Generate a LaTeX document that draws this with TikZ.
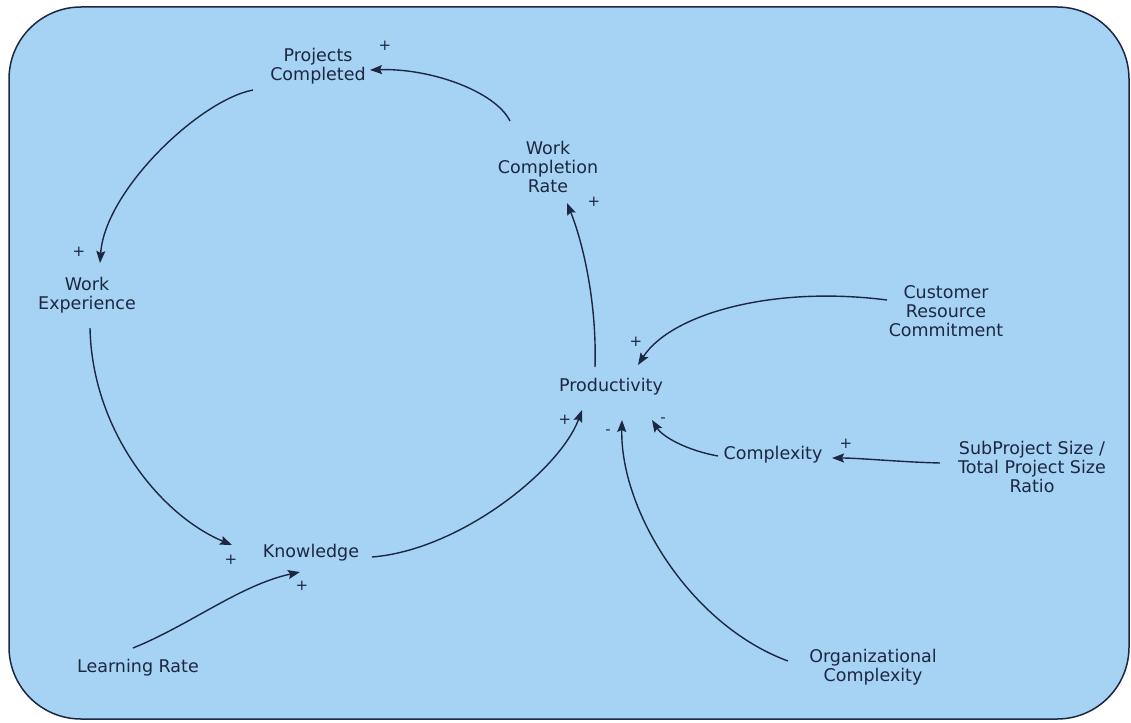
\documentclass[tikz,border=0pt]{standalone}
\usepackage{fontspec}
\setmainfont{DejaVu Sans}
\usetikzlibrary{arrows.meta}
\definecolor{panelblue}{RGB}{166,210,244}
\definecolor{inkblue}{RGB}{28,40,66}

\begin{document}
\begin{tikzpicture}[x=1pt,y=-1pt,
  var/.style={align=center,inner sep=0pt,text=inkblue,font=\fontsize{17.5}{19}\selectfont},
  sign/.style={inner sep=0pt,text=inkblue,font=\fontsize{15}{15}\selectfont},
  link/.style={draw=inkblue,line width=1.4pt,-{Stealth[length=12pt,width=9pt,inset=2pt]}}]

\useasboundingbox (0,0) rectangle (1131,722);
\draw [fill=panelblue,draw=inkblue,line width=1.5pt,rounded corners=72pt] (9,7) rectangle (1129,719);

\node [var] (pc) at (318,66) {Projects\\Completed};
\node [var] (wcr) at (548,167) {Work\\Completion\\Rate};
\node [var] (we) at (87,295) {Work\\Experience};
\node [var] (kn) at (311,553) {Knowledge};
\node [var] (lr) at (138,668) {Learning Rate};
\node [var] (prod) at (611,387) {Productivity};
\node [var] (crc) at (946,311) {Customer\\Resource\\Commitment};
\node [var] (cx) at (773,455) {Complexity};
\node [var] (sps) at (1032,467) {SubProject Size /\\Total Project Size\\Ratio};
\node [var] (oc) at (873,667) {Organizational\\Complexity};

\node [sign] (pcplus) at (385,46) {+};
\node [sign] (wcrplus) at (594,202) {+};
\node [sign] (weplus) at (79,252) {+};
\node [sign] (knplusa) at (231,560) {+};
\node [sign] (knplusb) at (302,586) {+};
\node [sign] (prodplusa) at (565,420) {+};
\node [sign] (prodplusb) at (636,342) {+};
\node [sign] (prodminusa) at (608,432) {-};
\node [sign] (prodminusb) at (663,420) {-};
\node [sign] (cxplus) at (846,444) {+};

% main loop
\draw [link] ([shift={(-38,-46)}]wcr.center) .. controls (495,91) and (430,68) .. ([shift={(52,4)}]pc.center);
\draw [link] ([shift={(-65,24)}]pc.center) .. controls (200,100) and (105,190) .. ([shift={(13,-32)}]we.center);
\draw [link] ([shift={(3,33)}]we.center) .. controls (92,430) and (160,515) .. ([shift={(-79,-8)}]kn.center);
\draw [link] ([shift={(61,4)}]kn.center) .. controls (460,550) and (560,470) .. ([shift={(-29,23)}]prod.center);
\draw [link] ([shift={(-16,-20)}]prod.center) .. controls (597,300) and (582,240) .. ([shift={(19,36)}]wcr.center);

% outside influences
\draw [link] ([shift={(-5,-20)}]lr.center) .. controls (190,625) and (240,585) .. ([shift={(-11,19)}]kn.center);
\draw [link] ([shift={(-59,-11)}]crc.center) .. controls (770,285) and (670,315) .. ([shift={(27,-22)}]prod.center);
\draw [link] ([shift={(-55,1)}]cx.center) .. controls (685,450) and (662,436) .. ([shift={(41,33)}]prod.center);
\draw [link] ([shift={(-85,-6)}]oc.center) .. controls (690,625) and (620,510) .. ([shift={(11,33)}]prod.center);
\draw [link] ([shift={(-92,-4)}]sps.center) .. controls (900,462) and (860,458) .. ([shift={(59,3)}]cx.center);

\end{tikzpicture}
\end{document}
